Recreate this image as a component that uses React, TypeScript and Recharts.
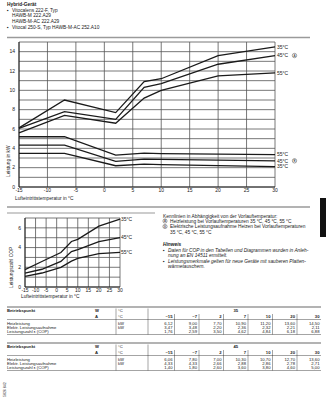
import React from 'react'
import { LineChart, Line, XAxis, YAxis, CartesianGrid } from 'recharts'

// Lufteintrittstemperatur (°C) der Betriebspunkte
const temps = [-15, -7, 2, 7, 10, 20, 30]

// Heizleistung in kW (Kennlinien A)
const heat35 = [6.12, 9.0, 7.7, 10.9, 11.2, 13.6, 14.5]
const heat45 = [6.06, 7.8, 7.0, 10.3, 10.7, 12.7, 13.6]
const heat55 = [5.6, 7.4, 6.6, 9.2, 10.0, 11.5, 11.8]

// elektrische Leistungsaufnahme in kW (Kennlinien B)
const elec35 = [3.47, 3.48, 2.2, 2.36, 2.32, 2.21, 2.11]
const elec45 = [4.33, 4.33, 2.66, 2.88, 2.86, 2.78, 2.71]
const elec55 = [5.2, 5.2, 3.3, 3.5, 3.45, 3.4, 3.35]

// Leistungszahl COP
const cop35 = [1.76, 2.59, 3.5, 4.62, 4.84, 6.18, 6.88]
const cop45 = [1.4, 1.8, 2.6, 3.6, 3.8, 4.6, 5.0]
const cop55 = [1.08, 1.42, 2.0, 2.63, 2.9, 3.38, 3.52]

const xTicks = [-15, -10, -5, 0, 5, 10, 15, 20, 25, 30]
const yTicksPower = [0, 1, 2, 3, 4, 5, 6, 7, 8, 9, 10, 11, 12, 13, 14, 15]
const yTicksCop = [0, 1, 2, 3, 4, 5, 6, 7]

const FONT = '"Liberation Sans", Arial, sans-serif'
const INK = '#1a1a1a'
const GRID = '#555'

const powerData = temps.map((t, i) => ({
  t,
  h35: heat35[i], h45: heat45[i], h55: heat55[i],
  e35: elec35[i], e45: elec45[i], e55: elec55[i],
}))
const copData = temps.map((t, i) => ({ t, c35: cop35[i], c45: cop45[i], c55: cop55[i] }))

const last = temps.length - 1

// label only at the last point of a line, optionally with circled letter
const endLabel = (text: string, gap: number, mark?: string) => (props: any) => {
  if (props.index !== last) return null
  const x = (props.x ?? props.viewBox?.x) + gap
  const y = props.y ?? props.viewBox?.y
  return (
    <g key={`end-${text}-${mark ?? ''}`}>
      <text x={x} y={y} dy="0.35em" fontSize={5} fill={INK} fontFamily={FONT}>{text}</text>
      {mark && (
        <>
          <circle cx={x + 17.5} cy={y} r={2.2} fill="none" stroke={INK} strokeWidth={0.4} />
          <text x={x + 17.5} y={y} dy="0.36em" textAnchor="middle" fontSize={3.1} fill={INK} fontFamily={FONT}>{mark}</text>
        </>
      )}
    </g>
  )
}

const evenOnly = (max: number) => (v: number) => (v % 2 === 0 && v <= max ? String(v) : '')
const tickStyle = { fill: INK, fontSize: 5, fontFamily: FONT }

function PowerChart() {
  return (
    <LineChart width={326} height={200} data={powerData} margin={{ top: 42, right: 51, bottom: 0, left: 0 }}>
      <CartesianGrid stroke={GRID} strokeWidth={0.8} />
      <XAxis dataKey="t" type="number" domain={[-15, 30]} ticks={xTicks} height={13} interval={0}
        tick={tickStyle} tickLine={false} tickSize={0} tickMargin={1} axisLine={{ stroke: INK, strokeWidth: 0.9 }} />
      <YAxis type="number" domain={[0, 15]} ticks={yTicksPower} width={19} interval={0}
        tick={tickStyle} tickFormatter={evenOnly(14)} tickLine={false} tickSize={0} tickMargin={4}
        axisLine={{ stroke: INK, strokeWidth: 0.9 }} />
      <Line dataKey="h35" stroke={INK} strokeWidth={1.3} dot={false} isAnimationActive={false} label={endLabel('35°C', 2)} />
      <Line dataKey="h45" stroke={INK} strokeWidth={1.3} dot={false} isAnimationActive={false} label={endLabel('45°C', 2, 'A')} />
      <Line dataKey="h55" stroke={INK} strokeWidth={1.3} dot={false} isAnimationActive={false} label={endLabel('55°C', 2)} />
      <Line dataKey="e55" stroke={INK} strokeWidth={1.3} dot={false} isAnimationActive={false} label={endLabel('55°C', 2)} />
      <Line dataKey="e45" stroke={INK} strokeWidth={1.3} dot={false} isAnimationActive={false} label={endLabel('45°C', 2, 'B')} />
      <Line dataKey="e35" stroke={INK} strokeWidth={1.3} dot={false} isAnimationActive={false} label={endLabel('35°C', 2)} />
    </LineChart>
  )
}

function CopChart() {
  return (
    <LineChart width={160} height={97} data={copData} margin={{ top: 18, right: 40, bottom: 0, left: 0 }}>
      <CartesianGrid stroke={GRID} strokeWidth={0.8} />
      <XAxis dataKey="t" type="number" domain={[-15, 30]} ticks={xTicks} height={10} interval={0}
        tick={tickStyle} tickLine={false} tickSize={0} tickMargin={1} axisLine={{ stroke: INK, strokeWidth: 0.9 }} />
      <YAxis type="number" domain={[0, 7]} ticks={yTicksCop} width={25} interval={0}
        tick={tickStyle} tickFormatter={evenOnly(6)} tickLine={false} tickSize={0} tickMargin={4}
        axisLine={{ stroke: INK, strokeWidth: 0.9 }} />
      <Line dataKey="c35" stroke={INK} strokeWidth={1.3} dot={false} isAnimationActive={false} label={endLabel('35°C', 1)} />
      <Line dataKey="c45" stroke={INK} strokeWidth={1.3} dot={false} isAnimationActive={false} label={endLabel('45°C', 1)} />
      <Line dataKey="c55" stroke={INK} strokeWidth={1.3} dot={false} isAnimationActive={false} label={endLabel('55°C', 1)} />
    </LineChart>
  )
}

// small text helper for the page overlay
function T({ x, y, children, size = 4.8, bold = false, italic = false, anchor = 'start', rotate = false }: any) {
  return (
    <text x={x} y={y} dy="0.35em" fontSize={size} fontWeight={bold ? 'bold' : 'normal'}
      fontStyle={italic ? 'italic' : 'normal'} textAnchor={anchor} fill={INK} fontFamily={FONT}
      transform={rotate ? `rotate(-90 ${x} ${y})` : undefined}>
      {children}
    </text>
  )
}

const fmt = (v: number) => v.toFixed(2).replace('.', ',')
const fmtTemp = (t: number) => (t < 0 ? `–${Math.abs(t)}` : String(t))
const colEdges = [150, 174.5, 199, 223.5, 248, 272.5, 297, 321.5]
const TS = 4.2

function Table({ top, flow, rows }: { top: number; flow: string; rows: { label: string; unit: string; values: number[] }[] }) {
  const bottom = top + 27.5
  const dataY = [top + 17, top + 21, top + 25]
  return (
    <g>
      <line x1={7} x2={321} y1={top} y2={top} stroke="#9a9a9a" strokeWidth={1.3} />
      <T x={7} y={top + 4} bold size={TS}>Betriebspunkt</T>
      <T x={95} y={top + 4} bold size={TS}>W</T>
      <T x={118} y={top + 4} size={TS}>°C</T>
      <T x={(colEdges[0] + colEdges[7]) / 2} y={top + 4} bold anchor="middle" size={TS}>{flow}</T>
      <T x={95} y={top + 9.5} bold size={TS}>A</T>
      <T x={118} y={top + 9.5} size={TS}>°C</T>
      {temps.map((t, i) => (
        <T key={`h${i}`} x={colEdges[i + 1] - 2} y={top + 9.5} bold anchor="end" size={TS}>{fmtTemp(t)}</T>
      ))}
      <line x1={7} x2={321} y1={top + 12.5} y2={top + 12.5} stroke={INK} strokeWidth={0.4} />
      <line x1={116} x2={116} y1={top + 1.5} y2={bottom} stroke={INK} strokeWidth={0.4} />
      <line x1={colEdges[0] - 2} x2={colEdges[0] - 2} y1={top + 1.5} y2={bottom} stroke={INK} strokeWidth={0.4} />
      {colEdges.slice(1, 7).map((x, i) => (
        <line key={`s${i}`} x1={x} x2={x} y1={top + 7} y2={bottom} stroke={INK} strokeWidth={0.4} />
      ))}
      {rows.map((r, ri) => (
        <g key={r.label}>
          <T x={7} y={dataY[ri]} size={TS}>{r.label}</T>
          <T x={118} y={dataY[ri]} size={TS}>{r.unit}</T>
          {r.values.map((v, i) => (
            <T key={i} x={colEdges[i + 1] - 2} y={dataY[ri]} anchor="end" size={TS}>{fmt(v)}</T>
          ))}
        </g>
      ))}
      <line x1={7} x2={321} y1={bottom} y2={bottom} stroke={INK} strokeWidth={0.4} />
    </g>
  )
}

function Overlay() {
  return (
    <svg width={326} height={400} style={{ position: 'absolute', left: 0, top: 0, pointerEvents: 'none' }}>
      <T x={7} y={4.5} bold>Hybrid-Gerät</T>
      <T x={7} y={10}>▪</T><T x={12} y={10}>Vitocalens 222-F, Typ</T>
      <T x={12} y={15.5}>HAWB-M 222.A29</T>
      <T x={12} y={21}>HAWB-M-AC 222.A29</T>
      <T x={7} y={27.5}>▪</T><T x={12} y={27.5}>Vitocal 250-S, Typ HAWB-M-AC 252.A10</T>
      <line x1={7} x2={310} y1={37.5} y2={37.5} stroke="#9a9a9a" strokeWidth={1.3} />

      <T x={8} y={177} rotate>Leistung in kW</T>
      <T x={15} y={198}>Lufteintrittstemperatur in °C</T>

      <line x1={7} x2={310} y1={207} y2={207} stroke="#9a9a9a" strokeWidth={1.3} />
      <line x1={7} x2={155} y1={213} y2={213} stroke="#9a9a9a" strokeWidth={1.1} />

      <T x={11} y={288} rotate>Leistungszahl COP</T>
      <T x={21} y={296}>Lufteintrittstemperatur in °C</T>

      <T x={163} y={216}>Kennlinien in Abhängigkeit von der Vorlauftemperatur:</T>
      <circle cx={165} cy={221} r={2.1} fill="none" stroke={INK} strokeWidth={0.4} />
      <T x={165} y={221.1} size={3} anchor="middle">A</T>
      <T x={170} y={221}>Heizleistung bei Vorlauftemperaturen 35 °C, 45 °C, 55 °C</T>
      <circle cx={165} cy={226.5} r={2.1} fill="none" stroke={INK} strokeWidth={0.4} />
      <T x={165} y={226.6} size={3} anchor="middle">B</T>
      <T x={170} y={226.5}>Elektrische Leistungsaufnahme Heizen bei Vorlauftemperaturen</T>
      <T x={170} y={232}>35 °C, 45 °C, 55 °C</T>
      <T x={163} y={244.5} bold italic>Hinweis</T>
      <T x={163} y={250}>▪</T>
      <T x={168} y={250} italic>Daten für COP in den Tabellen und Diagrammen wurden in Anleh-</T>
      <T x={168} y={255.5} italic>nung an EN 14511 ermittelt.</T>
      <T x={163} y={261}>▪</T>
      <T x={168} y={261} italic>Leistungsmerkmale gelten für neue Geräte mit sauberen Platten-</T>
      <T x={168} y={266.5} italic>wärmetauschern.</T>

      <rect x={320} y={198} width={6} height={39} fill="#111" />

      <Table top={307} flow="35" rows={[
        { label: 'Heizleistung', unit: 'kW', values: heat35 },
        { label: 'Elektr. Leistungsaufnahme', unit: 'kW', values: elec35 },
        { label: 'Leistungszahl ε (COP)', unit: '', values: cop35 },
      ]} />
      <Table top={343} flow="45" rows={[
        { label: 'Heizleistung', unit: 'kW', values: heat45 },
        { label: 'Elektr. Leistungsaufnahme', unit: 'kW', values: elec45 },
        { label: 'Leistungszahl ε (COP)', unit: '', values: cop45 },
      ]} />

      <T x={5} y={397} size={3.5} rotate>5826 842</T>
    </svg>
  )
}

export default function App() {
  return (
    <div style={{ position: 'absolute', left: 0, top: 0, width: 326, height: 400, background: '#fff', overflow: 'hidden', fontFamily: FONT }}>
      <div style={{ position: 'absolute', left: 0, top: 0 }}>
        <PowerChart />
      </div>
      <div style={{ position: 'absolute', left: 0, top: 200 }}>
        <CopChart />
      </div>
      <Overlay />
    </div>
  )
}
